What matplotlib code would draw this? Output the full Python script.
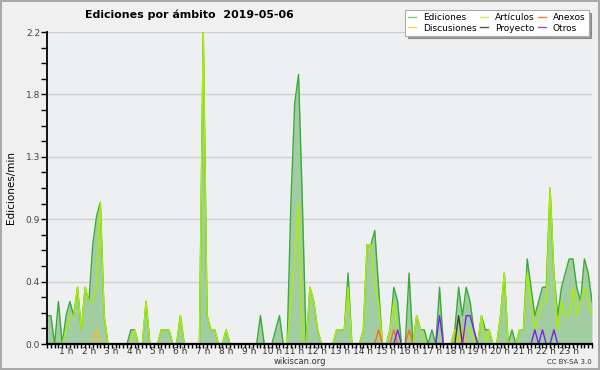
# Ediciones por ámbito, wikiscan 2019-05-06
import numpy as np
import matplotlib
matplotlib.use("Agg")
import matplotlib.pyplot as plt
from matplotlib.lines import Line2D
from matplotlib.transforms import ScaledTranslation

# 10-minute slots, one row per hour (edits / min)
ediciones = [
    .2, .2, 0, .3, 0, .2,
    .3, .2, .4, .1, .4, .3,
    .7, .9, 1.0, .2, 0, 0,
    0, 0, 0, 0, .1, .1,
    0, 0, .3, 0, 0, 0,
    .1, .1, .1, 0, 0, .2,
    0, 0, 0, 0, 0, 2.2,
    .2, .1, .1, 0, 0, .1,
    0, 0, 0, 0, 0, 0,
    0, 0, .2, 0, 0, 0,
    .1, .2, 0, 0, 1.0, 1.7,
    1.9, 1.0, 0, .4, .3, .1,
    0, 0, 0, 0, .1, .1,
    .1, .5, 0, 0, 0, .1,
    .7, .7, .8, .4, 0, 0,
    .1, .4, .3, 0, 0, .5,
    0, .2, .1, .1, 0, .1,
    0, .4, 0, 0, 0, .1,
    .4, .2, .4, .3, .1, 0,
    .2, .1, .1, 0, 0, .2,
    .5, 0, .1, 0, .1, .1,
    .6, .4, .2, .3, .4, .4,
    1.1, .5, .2, .4, .5, .6,
    .6, .4, .3, .6, .5, .3,
]
articulos = [
    0, 0, 0, 0, 0, .1,
    .2, .2, .4, .1, .4, .3,
    .3, .4, 1.0, .2, 0, 0,
    0, 0, 0, 0, 0, .1,
    0, 0, .3, 0, 0, 0,
    .1, .1, .1, 0, 0, .2,
    0, 0, 0, 0, 0, 2.2,
    .2, .1, .1, 0, 0, .1,
    0, 0, 0, 0, 0, 0,
    0, 0, 0, 0, 0, 0,
    0, 0, 0, 0, .3, .6,
    1.0, 0, 0, .4, .3, .1,
    0, 0, 0, 0, .1, .1,
    .1, .4, 0, 0, 0, .1,
    .7, .7, .4, .3, 0, 0,
    .1, .3, .1, 0, 0, 0,
    0, .2, .1, 0, 0, 0,
    0, 0, 0, 0, 0, .1,
    0, .1, .1, .1, 0, 0,
    .2, 0, .1, 0, 0, .2,
    .5, 0, 0, 0, .1, .1,
    .5, .3, .1, .2, .3, .3,
    1.1, .5, .1, .3, .2, .2,
    .4, .2, .3, .4, .3, .2,
]
# sparse series: slot index -> value
anexos_slots, anexos_vals = [87, 91, 95], [.1, .1, .1]
discusiones_slots, discusiones_vals = [13, 109], [.1, .1]
proyecto_slots, proyecto_vals = [108], [.2]
otros_slots = [92, 103, 110, 111, 112, 128, 130, 133]
otros_vals = [.1, .2, .2, .2, .1, .1, .1, .1]

hours = list(range(1, 24))
n = len(ediciones)
x = np.arange(n)

def sparse(slots, vals):
    s = np.zeros(n)
    s[slots] = vals
    return s

anexos = sparse(anexos_slots, anexos_vals)
discusiones = sparse(discusiones_slots, discusiones_vals)
proyecto = sparse(proyecto_slots, proyecto_vals)
otros = sparse(otros_slots, otros_vals)

fig = plt.figure(figsize=(6, 3.7), dpi=100, facecolor="#f0f0f0",
                 edgecolor="#a8a8a8", linewidth=1.5)
ax = fig.add_axes([47/600, 26/370, 545/600, 312/370])
ax.set_facecolor("#eeeff1")

ax.fill_between(x, ediciones, color="#a2cda2", lw=0, zorder=1)
ax.plot(x, ediciones, color="#3aaa3a", lw=1.0, zorder=2)
ax.plot(x, articulos, color="#aaee00", lw=1.0, zorder=2.1)
ax.plot(x, anexos, color="#ff6a1a", lw=1.0, zorder=2.2)
ax.plot(x, discusiones, color="#ffbb22", lw=1.0, zorder=2.2)
ax.plot(x, proyecto, color="#4a3a2a", lw=1.0, zorder=2.2)
ax.plot(x, otros, color="#7a22ee", lw=1.0, zorder=2.2)

ax.set_xlim(0, n - 1)
ax.set_ylim(0, 2.2)

# y axis
yt = [0.44 * k for k in range(6)]
ax.set_yticks(yt)
ax.set_yticklabels(["%.1f" % v for v in yt])
ax.set_yticks([0.11 * k for k in range(21)], minor=True)
ax.yaxis.grid(True, color="#cfcfcf", lw=1)
ax.set_axisbelow(True)
ax.tick_params(axis="y", which="both", length=4, width=1, direction="out",
               labelsize=6.5, labelcolor="#444444", pad=1)

# x axis: tick every slot, labels every hour
ax.set_xticks(x, minor=True)
ax.set_xticks([6 * h for h in hours])
ax.set_xticklabels(["%d h" % h for h in hours])
ax.tick_params(axis="x", which="both", length=3, width=1, direction="out",
               labelsize=6.5, labelcolor="#333333", pad=-0.5)
for lab in ax.get_xticklabels():
    lab.set_transform(lab.get_transform() + ScaledTranslation(-0.04, 0, fig.dpi_scale_trans))

for s in ["top", "right"]:
    ax.spines[s].set_visible(False)
ax.spines["left"].set_linewidth(1.3)
ax.spines["bottom"].set_linewidth(1.6)

ax.set_ylabel("Ediciones/min", fontsize=7.5, labelpad=7)

fig.text(85/600, 1 - 15/370, "Ediciones por ámbito  2019-05-06", fontsize=7.9,
         fontweight="bold", va="center", ha="left")
fig.text(0.5, 1 - 362/370, "wikiscan.org", fontsize=6, color="#333333",
         ha="center", va="center")
fig.text(592/600, 1 - 362/370, "CC BY-SA 3.0", fontsize=5, color="#333333",
         ha="right", va="center")

handles = [
    Line2D([], [], color="#7ccf7c", lw=1),
    Line2D([], [], color="#ffd24d", lw=1),
    Line2D([], [], color="#ccf050", lw=1),
    Line2D([], [], color="#555555", lw=1),
    Line2D([], [], color="#ff8040", lw=1),
    Line2D([], [], color="#9a4af0", lw=1),
]
labels = ["Ediciones", "Discusiones", "Artículos", "Proyecto", "Anexos", "Otros"]
leg = fig.legend(handles, labels, ncol=3, loc="upper left",
                 bbox_to_anchor=(405/600, 1 - 10/370), fontsize=6.5,
                 frameon=True, fancybox=False, shadow=True, framealpha=1,
                 edgecolor="#aaaaaa", handlelength=0.9, handletextpad=0.8,
                 columnspacing=0.3, labelspacing=0.15, borderpad=0.35,
                 borderaxespad=0)
leg.get_frame().set_linewidth(0.8)

fig.savefig("out.png", dpi=100, facecolor=fig.get_facecolor(), edgecolor=fig.get_edgecolor())
